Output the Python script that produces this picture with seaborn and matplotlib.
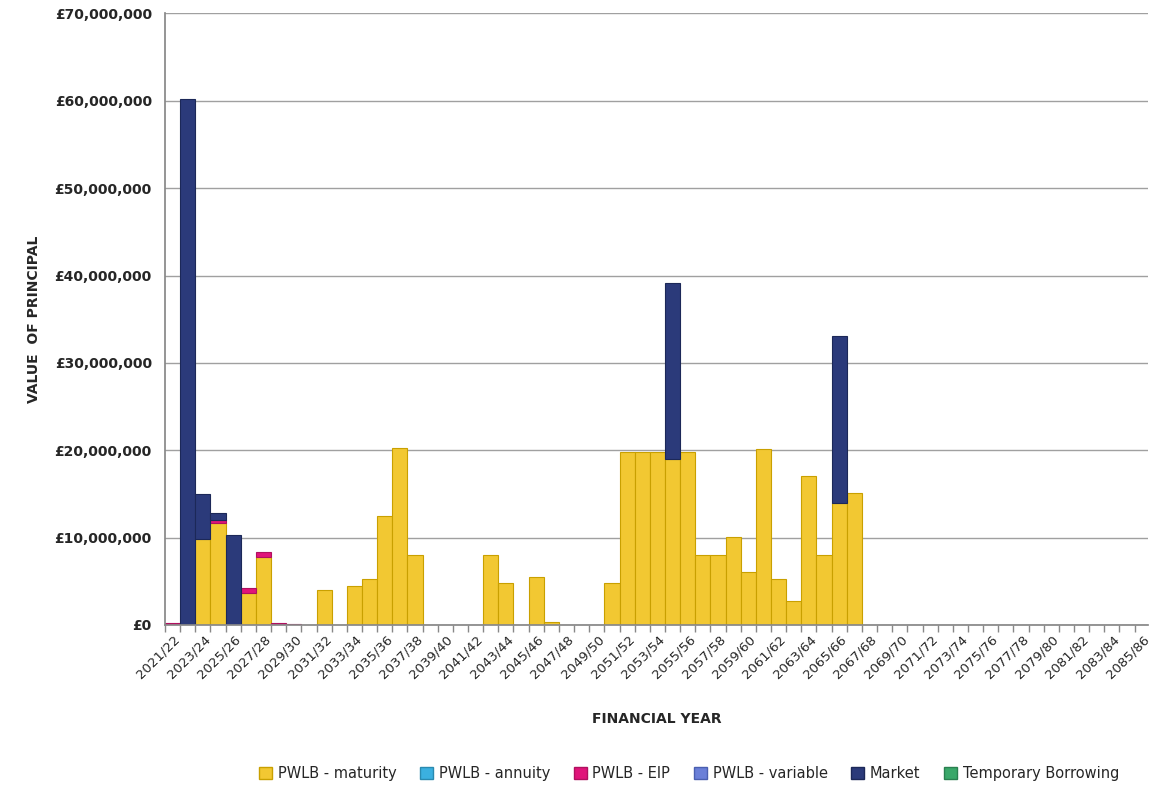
import numpy as np
import pandas as pd
import matplotlib
matplotlib.use("Agg")
import matplotlib.pyplot as plt
import seaborn as sns
from matplotlib.patches import Patch
from matplotlib.ticker import FuncFormatter

years = [f"{y}/{(y+1)%100:02d}" for y in range(2021, 2086)]
n = len(years)
maturity = np.zeros(n); eip = np.zeros(n); market = np.zeros(n)
annuity = np.zeros(n); variable = np.zeros(n); temporary = np.zeros(n)

mat_vals = {2023: 9.8, 2024: 11.7, 2026: 3.7, 2027: 7.8, 2031: 4.0, 2033: 4.4, 2034: 5.2,
            2035: 12.5, 2036: 20.2, 2037: 8.0, 2042: 8.0, 2043: 4.8, 2045: 5.5, 2046: 0.3,
            2050: 4.8, 2051: 19.8, 2052: 19.8, 2053: 19.8, 2054: 19.0, 2055: 19.8,
            2056: 8.0, 2057: 8.0, 2058: 10.1, 2059: 6.1, 2060: 20.1, 2061: 5.3,
            2062: 2.7, 2063: 17.1, 2064: 8.0, 2065: 14.0, 2066: 15.1}
eip_vals = {2021: 0.2, 2024: 0.3, 2026: 0.5, 2027: 0.5, 2028: 0.2, 2029: 0.15}
mkt_vals = {2022: 60.2, 2023: 5.2, 2024: 0.8, 2025: 10.3, 2054: 20.2, 2065: 19.1}
for d, arr in [(mat_vals, maturity), (eip_vals, eip), (mkt_vals, market)]:
    for y, v in d.items():
        arr[y - 2021] = v * 1e6

series = [("PWLB - maturity", maturity, "#F2C832", "#C9A000"),
          ("PWLB - annuity", annuity, "#3BB0E0", "#2A8AB0"),
          ("PWLB - EIP", eip, "#E0147A", "#B0105F"),
          ("PWLB - variable", variable, "#6A7FD8", "#4A5FB0"),
          ("Market", market, "#2B3A7A", "#1C2858"),
          ("Temporary Borrowing", temporary, "#3AA86A", "#2A8050")]

sns.set_theme(style="white")
fig, ax = plt.subplots(figsize=(11.54, 7.94), dpi=100)
bottom = np.zeros(n)
x = np.arange(n)
for name, vals, c, ec in series:
    m = vals > 0
    if m.any():
        ax.bar(x[m], vals[m], bottom=bottom[m], width=1.0, color=c, edgecolor=ec, linewidth=0.8)
    bottom += vals

ax.set_yticks(np.arange(0, 70e6 + 1, 10e6))
ax.yaxis.set_major_formatter(FuncFormatter(lambda v, p: f"£{v:,.0f}"))
ax.set_xticks(x[::2] + 0.05)
ax.set_xticklabels(years[::2], rotation=45, ha="right", rotation_mode="anchor", fontsize=9.5)
ax.set_xticks(np.arange(-0.5, n, 1), minor=True)
ax.tick_params(axis="x", which="major", length=0, pad=6)
ax.tick_params(axis="x", which="minor", length=5, color="#888888", bottom=True)
ax.set_xlim(-0.5, 64.4)
ax.set_ylim(0, 70e6)
ax.tick_params(axis="y", labelsize=10)
for lbl in ax.get_yticklabels():
    lbl.set_fontweight("bold")
ax.grid(axis="y", color="#A0A0A0", linewidth=1)
ax.set_axisbelow(True)
for s in ["top", "right"]:
    ax.spines[s].set_visible(False)
ax.spines["left"].set_color("#888888")
ax.spines["bottom"].set_color("#888888")
ax.set_xlabel("FINANCIAL YEAR", fontweight="bold", fontsize=10, labelpad=22)
ax.set_ylabel("VALUE  OF PRINCIPAL", fontweight="bold", fontsize=10, labelpad=10)

handles = [Patch(facecolor=c, edgecolor=ec, label=name) for name, _, c, ec in series]
fig.legend(handles=handles, loc="lower center", ncol=6, frameon=False, fontsize=10.5,
           bbox_to_anchor=(0.597, 0.0), handlelength=0.9, handleheight=0.9, columnspacing=1.6,
           handletextpad=0.4)
plt.subplots_adjust(left=0.143, right=0.995, top=0.983, bottom=0.213)
fig.savefig("out.png", dpi=100)
